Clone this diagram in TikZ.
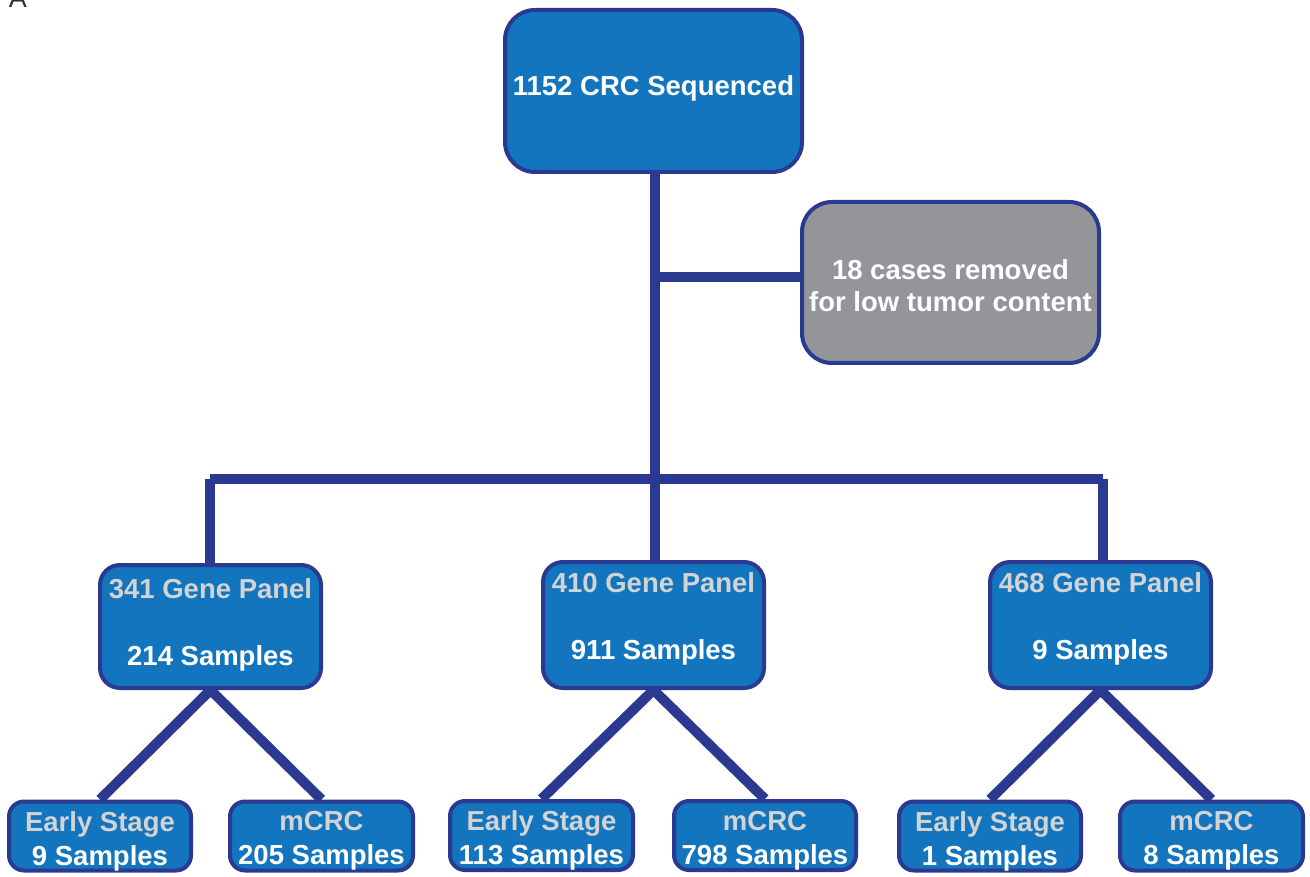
\documentclass[tikz,border=0pt]{standalone}
\usepackage{fontspec}
\setmainfont{Liberation Sans}
\definecolor{boxblue}{HTML}{1275BD}
\definecolor{edgeblue}{HTML}{2B3990}
\definecolor{boxgray}{HTML}{939598}
\definecolor{txtgray}{HTML}{D1D3D4}
\pgfdeclarelayer{bg}
\pgfsetlayers{bg,main}
\tikzset{
  box/.style={draw=edgeblue, line width=4pt, fill=boxblue, inner sep=0pt},
  bigbox/.style={box, rounded corners=30pt},
  panelbox/.style={box, rounded corners=20pt, minimum width=221pt},
  leafbox/.style={box, rounded corners=15pt, minimum height=69pt},
  txt/.style={text=white, align=center, inner sep=0pt, font=\fontsize{27.5}{32}\selectfont\bfseries},
  leaftxt/.style={txt, font=\fontsize{27.5}{34}\selectfont\bfseries},
  conn/.style={draw=edgeblue, line width=10pt},
}
\begin{document}
\begin{tikzpicture}[x=1pt,y=-1pt]
\useasboundingbox (0,0) rectangle (1310,877);
\node[anchor=base, text=black!80, font=\fontsize{27}{32}\selectfont] (lbl) at (18,7.5) {A};

\node[bigbox, minimum width=297pt, minimum height=162pt] (top) at (653.5,91) {};
\node[txt, yshift=3pt] (topt) at (top) {1152 CRC Sequenced};
\node[bigbox, fill=boxgray, minimum width=297pt, minimum height=161pt] (rem) at (950.5,282.5) {};
\node[txt, yshift=-3pt] (remt) at (rem) {18 cases removed\\for low tumor content};

\node[panelbox, minimum height=123pt] (p1) at (210.5,626.5) {};
\node[txt, yshift=1.5pt] (p1t) at (p1) {\textcolor{txtgray}{341 Gene Panel}\\[35pt]214 Samples};
\node[panelbox, minimum height=126pt] (p2) at (653.5,625) {};
\node[txt, yshift=6pt] (p2t) at (p2) {\textcolor{txtgray}{410 Gene Panel}\\[35pt]911 Samples};
\node[panelbox, minimum height=126pt] (p3) at (1100.5,625) {};
\node[txt, yshift=6pt] (p3t) at (p3) {\textcolor{txtgray}{468 Gene Panel}\\[35pt]9 Samples};

\node[leafbox, minimum width=182pt] (e1) at (100,836) {};
\node[leaftxt, yshift=-5pt] (e1t) at (e1) {\textcolor{txtgray}{Early Stage}\\9 Samples};
\node[leafbox, minimum width=183pt] (m1) at (321.5,836) {};
\node[leaftxt, yshift=-5pt] (m1t) at (m1) {\textcolor{txtgray}{mCRC}\\205 Samples};
\node[leafbox, minimum width=183pt] (e2) at (541.5,835.5) {};
\node[leaftxt, yshift=-5pt] (e2t) at (e2) {\textcolor{txtgray}{Early Stage}\\113 Samples};
\node[leafbox, minimum width=182pt] (m2) at (765,835.5) {};
\node[leaftxt, yshift=-5pt] (m2t) at (m2) {\textcolor{txtgray}{mCRC}\\798 Samples};
\node[leafbox, minimum width=182pt] (e3) at (990,836) {};
\node[leaftxt, yshift=-5pt] (e3t) at (e3) {\textcolor{txtgray}{Early Stage}\\1 Samples};
\node[leafbox, minimum width=183pt] (m3) at (1211.5,836) {};
\node[leaftxt, yshift=-5pt] (m3t) at (m3) {\textcolor{txtgray}{mCRC}\\8 Samples};

\coordinate (jrem) at (655,277);
\coordinate (jmid) at (655,479);
\coordinate (jl) at (210,479);
\coordinate (jr) at (1103,479);

\begin{pgfonlayer}{bg}
\draw[conn] (top.south -| jmid) -- (jmid);
\draw[conn] (jrem) -- (rem.west |- jrem);
\draw[conn] (jl) -- (jr);
\draw[conn] (jl) -- (jl |- p1.north);
\draw[conn] (jmid) -- (jmid |- p2.north);
\draw[conn] (jr) -- (jr |- p3.north);
\draw[conn] (p1.south) -- (e1.north);
\draw[conn] (p1.south) -- (m1.north);
\draw[conn] (p2.south) -- (e2.north);
\draw[conn] (p2.south) -- (m2.north);
\draw[conn] (p3.south) -- (e3.north);
\draw[conn] (p3.south) -- (m3.north);
\end{pgfonlayer}
\end{tikzpicture}
\end{document}
